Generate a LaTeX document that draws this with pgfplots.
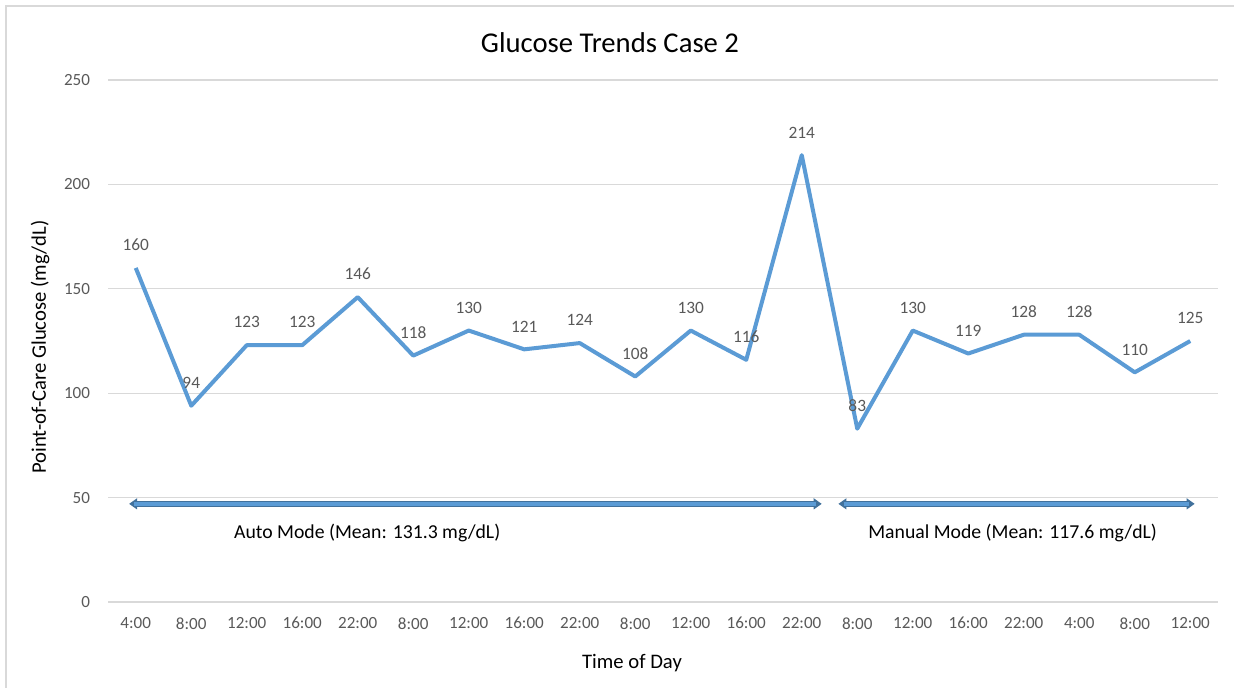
\documentclass[border=0pt]{standalone}
\usepackage{fontspec}
\setmainfont{Carlito}
\usepackage{pgfplots}
\pgfplotsset{compat=1.18}
\usetikzlibrary{arrows.meta}
\definecolor{lineblue}{HTML}{5B9BD5}
\definecolor{darkblue}{HTML}{41719C}
\definecolor{txt}{HTML}{595959}
\definecolor{gridgray}{HTML}{D9D9D9}
\begin{document}
\begin{tikzpicture}[x=0.75pt,y=0.75pt]
\useasboundingbox (0,0) rectangle (1234,688);
\draw[gridgray, line width=0.8pt] (6,-10) rectangle (1250,682);
\begin{axis}[
  at={(108*0.75pt,86*0.75pt)}, anchor=south west,
  scale only axis,
  width=1110*0.75pt, height=522*0.75pt,
  xmin=-0.5, xmax=19.5, ymin=0, ymax=250,
  ytick={0,50,...,250},
  xtick={0,...,19},
  xticklabels={4:00,8:00,12:00,16:00,22:00,8:00,12:00,16:00,22:00,8:00,12:00,16:00,22:00,8:00,12:00,16:00,22:00,4:00,8:00,12:00},
  xmajorgrids=false, ymajorgrids=true,
  grid style={color=gridgray, line width=0.8pt},
  axis line style={draw=none},
  major tick length=0pt, tick style={draw=none},
  tick label style={font=\fontsize{12.8}{14}\selectfont, color=txt},
  /pgf/number format/assume math mode=true,
  xticklabel style={yshift=-8pt},
  yticklabel style={xshift=-10pt},
  clip=false,
]
\addplot[lineblue, line width=3pt, line join=round,
  nodes near coords, every node near coord/.append style={font=\fontsize{13}{15}\selectfont, color=txt, yshift=8pt}]
  coordinates {
  (0,160) (1,94) (2,123) (3,123) (4,146) (5,118) (6,130) (7,121) (8,124) (9,108)
  (10,130) (11,116) (12,214) (13,83) (14,130) (15,119) (16,128) (17,128) (18,110) (19,125)
};
\draw[{Triangle[length=6pt,width=8pt]}-{Triangle[length=6pt,width=8pt]}, darkblue, line width=4.6pt] (axis cs:-0.12,47) -- (axis cs:12.36,47);
\draw[lineblue, line width=2.6pt, shorten <=4pt, shorten >=4pt] (axis cs:-0.12,47) -- (axis cs:12.36,47);
\draw[{Triangle[length=6pt,width=8pt]}-{Triangle[length=6pt,width=8pt]}, darkblue, line width=4.6pt] (axis cs:12.66,47) -- (axis cs:19.08,47);
\draw[lineblue, line width=2.6pt, shorten <=4pt, shorten >=4pt] (axis cs:12.66,47) -- (axis cs:19.08,47);
\node[font=\fontsize{14.8}{17}\selectfont, text=black] at (axis cs:4.17,33) {Auto Mode (Mean: 131.3 mg/dL)};
\node[font=\fontsize{14.8}{17}\selectfont, text=black] at (axis cs:15.8,33) {Manual Mode (Mean: 117.6 mg/dL)};
\end{axis}
\node[font=\fontsize{21.5}{25}\selectfont, text=black] at (610,645) {Glucose Trends Case 2};
\node[font=\fontsize{15.5}{18}\selectfont, text=black, rotate=90] at (40,341) {Point-of-Care Glucose (mg/dL)};
\node[font=\fontsize{15.5}{18}\selectfont, text=black] at (632,25) {Time of Day};
\end{tikzpicture}
\end{document}
